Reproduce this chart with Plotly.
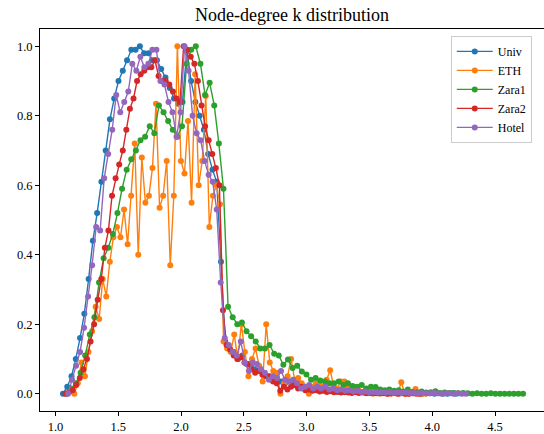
import plotly.graph_objects as go

# ---- data (x grids: start / step per series, y values) ----
series_names = ["Univ", "ETH", "Zara1", "Zara2", "Hotel"]
colors = ["#1f77b4", "#ff7f0e", "#2ca02c", "#d62728", "#9467bd"]

univ_start, univ_step = 1.06, 0.034
univ_y = [0.00, 0.02, 0.05, 0.10, 0.16, 0.23, 0.33, 0.44, 0.52, 0.61,
          0.70, 0.79, 0.85, 0.90, 0.93, 0.96, 0.99, 0.99, 1.00, 0.98,
          0.98, 0.96, 0.96, 0.935, 0.91, 0.88, 0.85, 0.835, 0.84, 0.99,
          0.90, 0.84, 0.80, 0.76, 0.69, 0.645, 0.61, 0.38, 0.15, 0.13,
          0.12, 0.10, 0.11, 0.085, 0.08, 0.07, 0.075, 0.06, 0.05, 0.045,
          0.05, 0.035, 0.03, 0.035, 0.025, 0.02, 0.02, 0.015, 0.018, 0.012,
          0.015, 0.01, 0.012, 0.008, 0.01, 0.007, 0.008, 0.005, 0.006, 0.004,
          0.005, 0.003, 0.004, 0.002, 0.003, 0.002, 0.003, 0.001, 0.002, 0.001,
          0.002, 0.001, 0.001, 0.002, 0.0, 0.001, 0.001, 0.0, 0.001, 0.0,
          0.0, 0.001, 0.0]

eth_start, eth_step = 1.15, 0.0283
eth_y = [0.00, 0.03, 0.09, 0.05, 0.12, 0.18, 0.25, 0.215, 0.33, 0.28,
         0.38, 0.45, 0.48, 0.45, 0.53, 0.43, 0.57, 0.72, 0.40, 0.68,
         0.55, 0.57, 0.65, 0.835, 0.535, 0.57, 0.67, 0.37, 0.57, 1.00,
         0.67, 0.634, 0.785, 0.55, 0.92, 0.60, 0.67, 0.857, 0.48, 0.57,
         0.60, 0.545, 0.15, 0.13, 0.12, 0.17, 0.10, 0.20, 0.12, 0.05,
         0.10, 0.13, 0.08, 0.035, 0.20, 0.09, 0.065, 0.06, 0.0, 0.03,
         0.05, 0.10, 0.04, 0.045, 0.03, 0.02, 0.0, 0.02, 0.03, 0.025,
         0.02, 0.04, 0.067, 0.02, 0.015, 0.035, 0.035, 0.02, 0.01, 0.015,
         0.01, 0.005, 0.01, 0.005, 0.0, 0.005, 0.0, 0.005, 0.0, 0.0,
         0.005, 0.0, 0.033, 0.0, 0.0, 0.005, 0.013, 0.0, 0.0, 0.0]

zara1_start, zara1_step = 1.09, 0.0367
zara1_y = [0.00, 0.015, 0.03, 0.06, 0.11, 0.17, 0.22, 0.32, 0.39, 0.42,
           0.46, 0.52, 0.59, 0.645, 0.675, 0.70, 0.73, 0.74, 0.77, 0.75,
           0.83, 0.81, 0.785, 0.76, 0.74, 0.77, 0.95, 0.99, 1.00, 0.95,
           0.86, 0.895, 0.83, 0.72, 0.59, 0.25, 0.22, 0.20, 0.205, 0.18,
           0.165, 0.15, 0.13, 0.13, 0.14, 0.115, 0.11, 0.083, 0.098, 0.074,
           0.08, 0.064, 0.055, 0.04, 0.045, 0.038, 0.035, 0.03, 0.03, 0.035,
           0.025, 0.03, 0.022, 0.02, 0.025, 0.015, 0.02, 0.019, 0.012, 0.01,
           0.012, 0.008, 0.01, 0.006, 0.012, 0.005, 0.004, 0.006, 0.003, 0.004,
           0.007, 0.002, 0.003, 0.002, 0.002, 0.001, 0.002, 0.001, 0.0, 0.001,
           0.0, 0.0, 0.001, 0.0, 0.0, 0.0, 0.0, 0.0, 0.0, 0.0]

zara2_start, zara2_step = 1.08, 0.0285
zara2_y = [0.00, 0.005, 0.01, 0.025, 0.045, 0.07, 0.10, 0.15, 0.20, 0.27,
           0.33, 0.42, 0.47, 0.57, 0.62, 0.66, 0.70, 0.76, 0.82, 0.85,
           0.90, 0.92, 0.93, 0.94, 0.94, 0.96, 0.915, 0.90, 0.90, 0.89,
           0.87, 0.85, 0.84, 1.00, 0.99, 0.97, 0.95, 0.90, 0.83, 0.77,
           0.73, 0.69, 0.65, 0.60, 0.24, 0.14, 0.127, 0.11, 0.10, 0.105,
           0.09, 0.085, 0.07, 0.06, 0.065, 0.055, 0.05, 0.05, 0.035, 0.03,
           0.008, 0.02, 0.012, 0.02, 0.025, 0.015, 0.02, 0.01, 0.012, 0.008,
           0.01, 0.006, 0.008, 0.005, 0.007, 0.004, 0.005, 0.003, 0.004, 0.003,
           0.002, 0.004, 0.002, 0.003, 0.001, 0.002, 0.002, 0.001, 0.002, 0.001,
           0.0, 0.001, 0.001, 0.0, 0.001, 0.0, 0.0, 0.001, 0.0, 0.0]

hotel_start, hotel_step = 1.10, 0.032
hotel_y = [0.00, 0.04, 0.08, 0.12, 0.19, 0.28, 0.37, 0.48, 0.47, 0.62,
           0.69, 0.76, 0.86, 0.81, 0.84, 0.87, 0.95, 0.93, 0.97, 0.94,
           0.95, 0.99, 0.99, 0.90, 0.89, 0.84, 0.81, 0.74, 0.81, 1.00,
           0.93, 0.80, 0.75, 0.73, 0.67, 0.63, 0.61, 0.53, 0.32, 0.16,
           0.14, 0.12, 0.11, 0.15, 0.09, 0.065, 0.09, 0.085, 0.07, 0.06,
           0.04, 0.05, 0.045, 0.065, 0.04, 0.035, 0.04, 0.03, 0.015, 0.02,
           0.025, 0.015, 0.02, 0.015, 0.02, 0.012, 0.015, 0.01, 0.012, 0.008,
           0.01, 0.006, 0.008, 0.005, 0.006, 0.004, 0.005, 0.003, 0.004, 0.003,
           0.004, 0.002, 0.003, 0.002, 0.003, 0.002, 0.002, 0.001, 0.002, 0.001,
           0.001, 0.002, 0.001, 0.0, 0.001, 0.001, 0.0, 0.001, 0.0, 0.0]

x_tick_vals = [1.0, 1.5, 2.0, 2.5, 3.0, 3.5, 4.0, 4.5]
x_tick_text = ["1.0", "1.5", "2.0", "2.5", "3.0", "3.5", "4.0", "4.5"]
y_tick_vals = [0.0, 0.2, 0.4, 0.6, 0.8, 1.0]
y_tick_text = ["0.0", "0.2", "0.4", "0.6", "0.8", "1.0"]

series = [
    (univ_start, univ_step, univ_y),
    (eth_start, eth_step, eth_y),
    (zara1_start, zara1_step, zara1_y),
    (zara2_start, zara2_step, zara2_y),
    (hotel_start, hotel_step, hotel_y),
]

FONT = "Liberation Serif"

fig = go.Figure()
for name, color, (start, step, ys) in zip(series_names, colors, series):
    xs = [start + step * i for i in range(len(ys))]
    fig.add_trace(go.Scatter(
        x=xs, y=ys, name=name, mode="lines+markers",
        line=dict(color=color, width=1.4),
        marker=dict(color=color, size=6),
    ))

axis_common = dict(
    showgrid=False, zeroline=False, showline=True, linecolor="black",
    linewidth=0.8, ticks="outside", ticklen=4, tickwidth=0.8,
    tickcolor="black", tickfont=dict(family=FONT, size=12.5, color="black"),
)

fig.update_layout(
    width=544, height=434,
    margin=dict(l=40, r=0, t=29, b=23),
    paper_bgcolor="white", plot_bgcolor="white",
    title=dict(text="Node-degree k distribution", x=0.5, xref="paper",
               xanchor="center", y=1 - 15 / 434, yanchor="middle",
               font=dict(family=FONT, size=18, color="black")),
    xaxis=dict(range=[0.877, 4.89], tickvals=x_tick_vals, ticktext=x_tick_text,
               mirror=True, **axis_common),
    yaxis=dict(range=[-0.05, 1.05], tickvals=y_tick_vals, ticktext=y_tick_text,
               mirror=False, **axis_common),
    legend=dict(x=0.815, y=0.982, xanchor="left", yanchor="top",
                bgcolor="rgba(255,255,255,0.85)", bordercolor="#cccccc",
                borderwidth=1, font=dict(family=FONT, size=12, color="black"),
                itemwidth=36, tracegroupgap=0),
    showlegend=True,
)

fig.write_html("out.html",
               config={"displayModeBar": False},
               post_script="document.body.style.margin='0';document.body.style.overflow='hidden';")
